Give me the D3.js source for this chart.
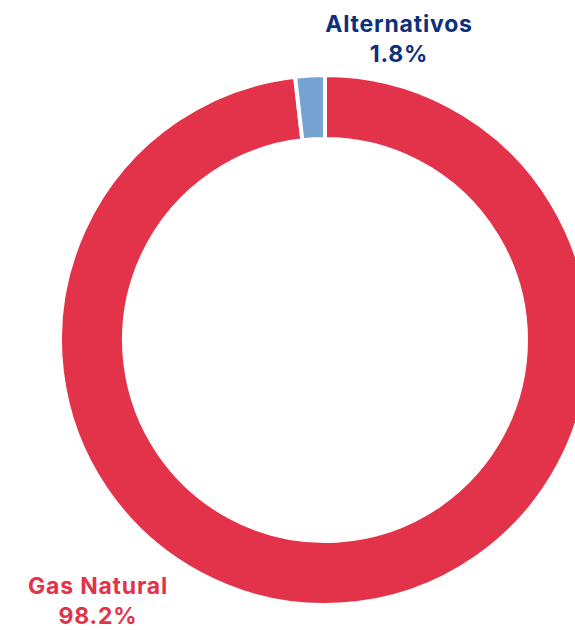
<!DOCTYPE html>
<html><head><meta charset="utf-8">
<script src="https://cdn.jsdelivr.net/npm/d3@7"></script>
<style>html,body{margin:0;padding:0;background:#fff;overflow:hidden}</style>
</head><body>
<svg id="c" width="575" height="630"></svg>
<script>
const categories = ["Gas Natural", "Alternativos"];
const values = [98.2, 1.8];
const valueLabels = ["98.2%", "1.8%"];
const colors = ["#E3334A", "#77A3D3"];
const labelColors = ["#E3334A", "#0E2F7C"];

const svg = d3.select("#c");
const cx = 325, cy = 340, rOuter = 265, rInner = 201;
const g = svg.append("g").attr("transform", `translate(${cx},${cy})`);
const pie = d3.pie().sort(null).value(d => d)
  .startAngle(0).endAngle(2 * Math.PI);
const arcs = pie(values);
const arc = d3.arc().innerRadius(rInner).outerRadius(rOuter);
g.selectAll("path").data(arcs).join("path")
  .attr("d", arc)
  .attr("fill", (d, i) => colors[i])
  .attr("stroke", "#fff").attr("stroke-width", 4);

const labelPos = [[98, 594], [399, 32]];
const font = "Inter, 'Open Sans', sans-serif";
categories.forEach((c, i) => {
  const t = svg.append("text")
    .attr("x", labelPos[i][0]).attr("y", labelPos[i][1])
    .attr("text-anchor", "middle")
    .attr("font-family", font).attr("font-weight", 700)
    .attr("font-size", 23).attr("letter-spacing", 0.8)
    .attr("fill", labelColors[i]);
  t.append("tspan").attr("x", labelPos[i][0]).attr("y", labelPos[i][1]).text(c);
  t.append("tspan").attr("x", labelPos[i][0]).attr("y", labelPos[i][1] + 30).text(valueLabels[i]);
});
</script>
</body></html>
